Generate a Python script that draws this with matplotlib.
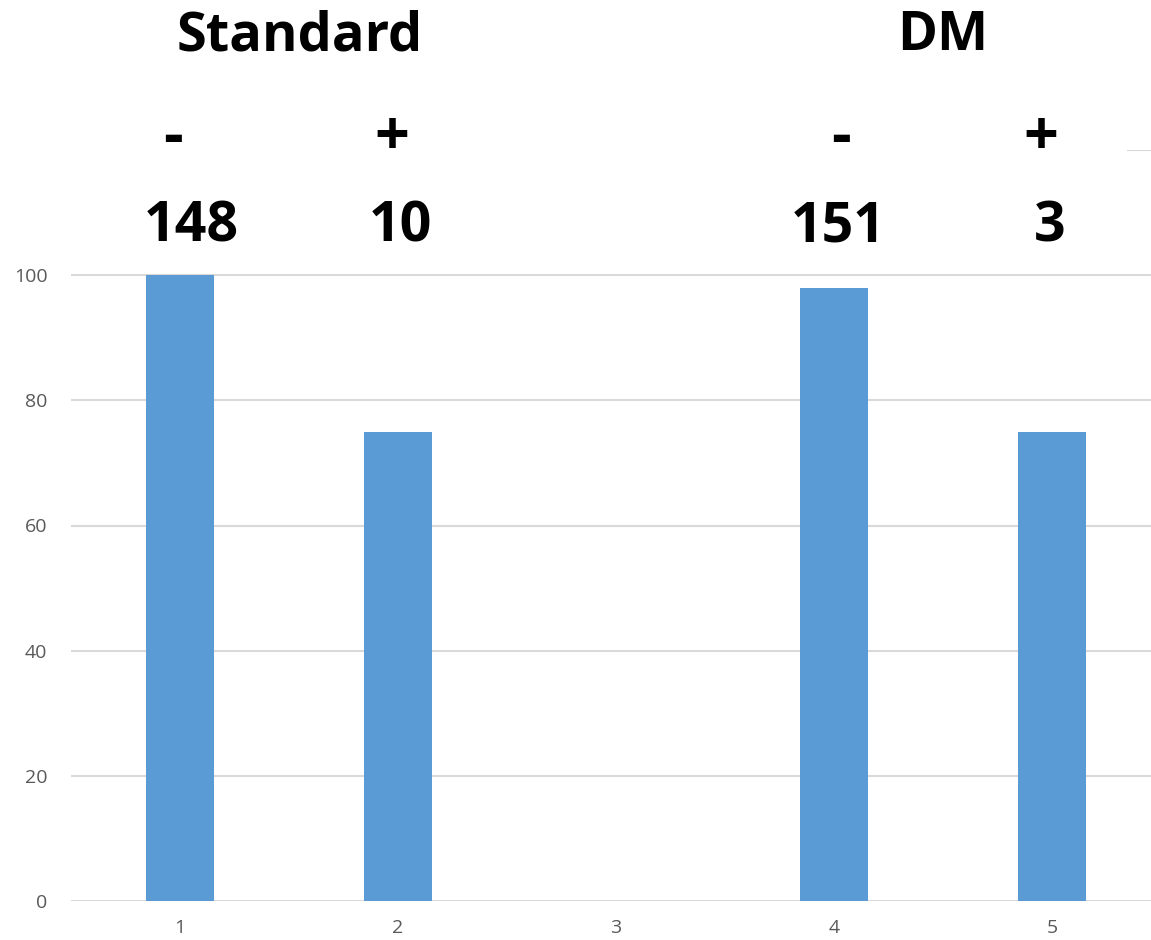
import matplotlib
matplotlib.use("Agg")
import matplotlib.pyplot as plt
from matplotlib.patches import Rectangle

# Data
categories = [1, 2, 3, 4, 5]
values = [100, 75, 0, 98, 75]
group_titles = ["Standard", "DM"]
group_title_x = [1.55, 4.50]
sign_labels = ["-", "+", "-", "+"]
sign_x = [0.97, 1.97, 4.03, 4.95]
count_labels = ["148", "10", "151", "3"]
count_x = [1.05, 2.01, 4.02, 4.99]

W, H, DPI = 1151, 940, 100
fig = plt.figure(figsize=(W / DPI, H / DPI), dpi=DPI)

# Axes extend a bit beyond the right edge of the canvas
left_px, right_px = 71, 1161
bottom_px, top_px = 901, 150
ax = fig.add_axes([left_px / W, (H - bottom_px) / H,
                   (right_px - left_px) / W, (bottom_px - top_px) / H])

bar_color = "#5b9bd5"
grid_color = "#d9d9d9"
tick_color = "#595959"

ax.bar(categories, values, width=0.31, color=bar_color, zorder=3)
ax.set_xlim(0.5, 5.5)
ax.set_ylim(0, 120)
ax.set_yticks([0, 20, 40, 60, 80, 100, 120])
ax.set_yticklabels(["0", "20", "40", "60", "80", "100", ""])
ax.set_xticks(categories)
ax.set_xticklabels([str(c) for c in categories])
ax.grid(axis="y", color=grid_color, linewidth=1.5, zorder=0)
for s in ax.spines.values():
    s.set_visible(False)
ax.tick_params(length=0, colors=tick_color, labelsize=14)
ax.tick_params(axis="y", pad=17)
ax.tick_params(axis="x", pad=13)
for lbl in ax.get_xticklabels() + ax.get_yticklabels():
    lbl.set_fontfamily("Open Sans")

# White text box backing covering the top of the plot area
fig.patches.append(Rectangle((0, (H - 170) / H), 1127 / W, 170 / H,
                             transform=fig.transFigure, facecolor="white",
                             edgecolor="none", zorder=1))

txt_kw = dict(fontfamily="Open Sans", fontweight="bold", color="black",
              ha="center", va="center", transform=ax.transData, zorder=5)
for x, t in zip(group_title_x, group_titles):
    fig.text(x, 138.2, t, fontsize=39, **txt_kw)
for x, t in zip(sign_x, sign_labels):
    fig.text(x, 121.6, t, fontsize=44, **txt_kw)
for x, t in zip(count_x, count_labels):
    fig.text(x, 107.7, t, fontsize=40, **txt_kw)

fig.savefig("out.png", dpi=DPI, facecolor="white")
